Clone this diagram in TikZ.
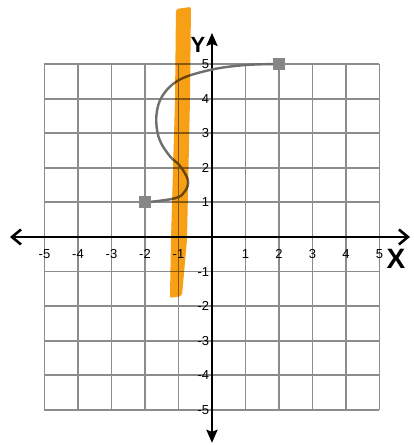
\documentclass[tikz,border=0pt]{standalone}
\usepackage{fontspec}
\setmainfont{Liberation Sans}
\usetikzlibrary{arrows.meta}
\definecolor{hiorange}{RGB}{247,160,22}
\definecolor{gridgray}{RGB}{140,140,140}
\definecolor{curvegray}{RGB}{110,110,110}
\definecolor{markgray}{RGB}{135,135,135}
\tikzset{
  gridline/.style={draw=gridgray, line width=1.8pt},
  axisline/.style={draw=black, line width=2.6pt},
  ticklab/.style={font=\fontsize{13}{13}\selectfont, text=black, inner sep=0pt},
  endmark/.style={draw=none, fill=markgray, minimum size=12pt, inner sep=0pt},
  curveline/.style={draw=curvegray, line width=2.4pt},
  highlight/.style={fill=hiorange, draw=none},
  axislab/.style={font=\bfseries, inner sep=0pt}
}
\begin{document}
\begin{tikzpicture}[x=33.5pt,y=34.6pt]
\useasboundingbox[fill=white] (-6.328,-6.012) rectangle (6.030,6.850);
% grid
\foreach \i in {-5,...,5}{
  \draw[gridline] (\i,-5) -- (\i,5);
  \draw[gridline] (-5,\i) -- (5,\i);
}
% axes
\coordinate (xl) at (-6.03,0);
\coordinate (xr) at (5.91,0);
\coordinate (yb) at (0,-5.95);
\coordinate (yt) at (0,5.90);
\draw[axisline, {Straight Barb[length=9pt,width=15pt]}-{Straight Barb[length=9pt,width=15pt]}] (xl) -- (xr);
\draw[axisline, {Stealth[length=13pt,width=11pt,inset=2pt]}-{Stealth[length=13pt,width=11pt,inset=2pt]}] (yb) -- (yt);
% tick labels
\foreach \i in {-5,-4,-3,-2,-1,1,2,3,4,5}{
  \node[ticklab] (xt\i) at (\i,-0.48) {\i};
  \node[ticklab, anchor=east] (yt\i) at (-0.08,\i) {\i};
}
\node[axislab, font=\fontsize{22}{22}\selectfont\bfseries] (ylab) at (-0.42,5.56) {Y};
\node[axislab, font=\fontsize{28}{28}\selectfont\bfseries] (xlab) at (5.49,-0.62) {X};
% curve
\node[endmark] (pa) at (2,5) {};
\node[endmark] (pb) at (-2,1) {};
\draw[curveline] plot[smooth, tension=0.6] coordinates {
  (2,5) (1,4.97) (0,4.84) (-0.96,4.55) (-1.48,4.08) (-1.66,3.5) (-1.58,2.85)
  (-1.27,2.35) (-0.96,2.06) (-0.72,1.65) (-0.8,1.33) (-1.1,1.12) (-2,1)
};
\node[endmark] at (pa) {};
\node[endmark] at (pb) {};
% highlighter band
\begin{scope}[blend mode=multiply]
\fill[highlight, rounded corners=2pt]
  (-1.075,6.59) -- (-0.627,6.65) -- (-0.657,3.96) -- (-0.746,-0.087) --
  (-0.896,-1.705) -- (-1.254,-1.763) -- (-1.224,-0.087) -- (-1.104,3.96) -- cycle;
\end{scope}
\end{tikzpicture}
\end{document}
